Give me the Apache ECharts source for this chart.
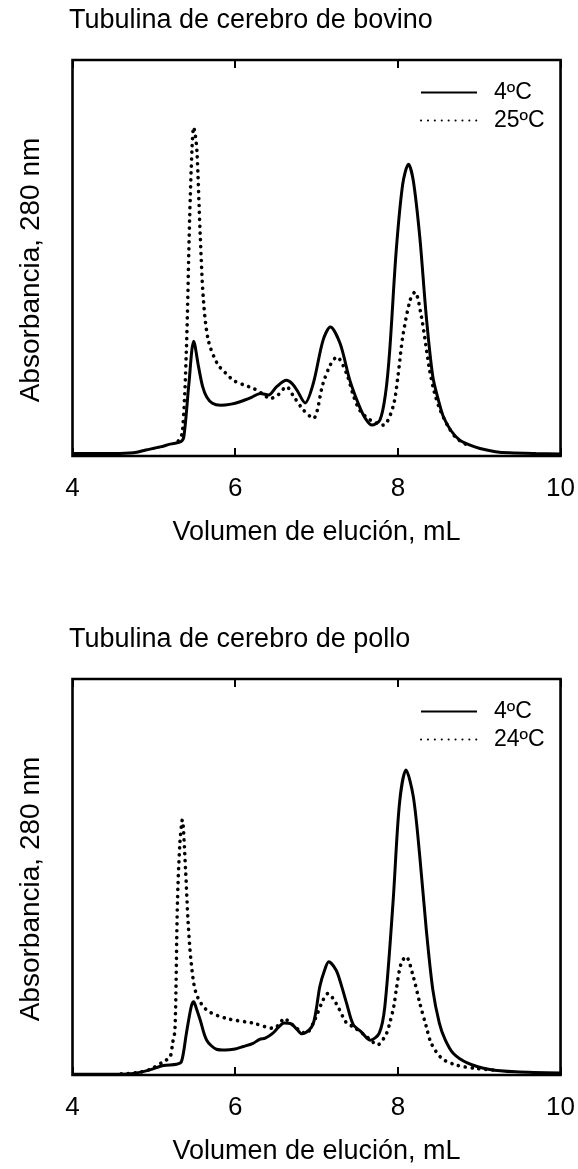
<!DOCTYPE html>
<html>
<head>
<meta charset="utf-8">
<script src="https://cdn.jsdelivr.net/npm/echarts@6/dist/echarts.min.js"></script>
<style>
html,body{margin:0;padding:0;background:#fff;}
#chart{width:578px;height:1169px;}
</style>
</head>
<body>
<div id="chart"></div>
<script>
// ---- Data (x = elution volume in mL, y = absorbance, arbitrary units: % of plot height) ----
var titles = ['Tubulina de cerebro de bovino', 'Tubulina de cerebro de pollo'];
var xAxisTitle = 'Volumen de elución, mL';
var yAxisTitle = 'Absorbancia, 280 nm';
var xTicks = [4, 6, 8, 10];
var legendTop = ['4ºC', '25ºC'];
var legendBottom = ['4ºC', '24ºC'];

var bovino4C = [[4.0,0.6],[4.5,0.6],[4.75,0.8],[4.9,1.5],[5.08,2.3],[5.2,3.0],[5.33,3.6],[5.37,5.0],[5.43,18],[5.49,29],[5.55,22.5],[5.6,17.5],[5.65,14.9],[5.72,13.3],[5.82,12.8],[5.95,13.1],[6.06,13.7],[6.2,14.8],[6.31,15.8],[6.41,15.4],[6.51,17.5],[6.63,19.1],[6.7,18.3],[6.76,16.6],[6.86,13.4],[6.96,18.3],[7.08,29.2],[7.17,32.6],[7.29,28.4],[7.41,19.1],[7.53,12.4],[7.6,9.5],[7.68,7.8],[7.78,9.1],[7.85,16],[7.90,26.7],[7.98,51.9],[8.06,68.7],[8.13,73.7],[8.19,69.5],[8.27,55.2],[8.35,35.1],[8.43,20.0],[8.5,14],[8.56,9.9],[8.65,6.5],[8.76,4.0],[8.88,2.8],[9.01,1.9],[9.2,1.1],[9.37,0.8],[9.7,0.6],[10,0.5]];
var bovino25C = [[5.3,3.8],[5.35,5.8],[5.40,26.7],[5.44,60],[5.47,78],[5.49,83],[5.51,81],[5.53,77],[5.57,56],[5.61,39.3],[5.67,29.2],[5.78,23.3],[5.88,21],[5.98,19.1],[6.1,18],[6.22,17.1],[6.33,15.8],[6.43,14.5],[6.53,15.5],[6.63,17.5],[6.72,15],[6.84,11.6],[6.96,9.5],[7.08,18.3],[7.17,23],[7.25,25.0],[7.37,20.8],[7.45,15.5],[7.53,11.6],[7.66,9.1],[7.82,7.8],[7.94,12.4],[8.0,20],[8.06,30.1],[8.15,39.3],[8.21,41.4],[8.29,35.1],[8.39,21.7],[8.45,16],[8.52,11.6],[8.62,7.4],[8.72,4.5],[8.85,2.8]];
var pollo4C = [[4.0,0.2],[4.6,0.2],[4.75,0.4],[4.95,1.3],[5.12,2.4],[5.28,2.7],[5.34,3.4],[5.40,10.5],[5.46,17.3],[5.49,18.5],[5.52,17],[5.57,13.9],[5.65,8.8],[5.77,6.5],[5.88,6.3],[5.98,6.5],[6.1,7.2],[6.22,8.0],[6.30,9.0],[6.37,9.3],[6.46,10.5],[6.53,12],[6.60,13.1],[6.69,12.9],[6.76,11.5],[6.82,10.4],[6.91,11.4],[6.96,13],[7.0,17],[7.04,22.3],[7.1,26.5],[7.15,28.6],[7.24,26.5],[7.30,23],[7.37,18.1],[7.45,12.8],[7.55,10.9],[7.66,8.8],[7.77,10.5],[7.84,17.3],[7.94,43.4],[8.02,68.6],[8.10,77.0],[8.19,70.3],[8.27,55.1],[8.35,36.6],[8.43,21.5],[8.51,13.1],[8.58,9],[8.68,5.5],[8.86,3.0],[9.13,1.4],[9.45,0.8],[10,0.5]];
var pollo24C = [[4.6,0.3],[4.8,0.6],[4.95,1.4],[5.12,3.4],[5.20,4.6],[5.23,8],[5.26,11.4],[5.29,43.4],[5.32,58.5],[5.35,64.4],[5.39,51.8],[5.42,39.1],[5.46,28.2],[5.52,20.6],[5.65,16.4],[5.89,14.3],[6.22,13.1],[6.47,11.8],[6.55,13],[6.60,14.3],[6.67,13.3],[6.73,12.2],[6.87,10.5],[6.96,13.1],[7.08,18.9],[7.14,20.6],[7.24,18.1],[7.37,13.1],[7.45,12.2],[7.64,9.3],[7.75,7.6],[7.86,10.5],[7.90,13.1],[7.95,17.3],[7.98,21.5],[8.04,28.2],[8.10,29.9],[8.19,24.8],[8.27,18.1],[8.35,12.2],[8.41,8.0],[8.54,4.2],[8.72,2.5],[8.95,1.7],[9.2,1.2]];

// ---- Layout ----
var FONT = 'Liberation Sans, Arial, Helvetica, sans-serif';
var gridTops = [60, 679];
var gridH = 396;
var gridLeft = 72.5, gridRight = 17;

var chart = echarts.init(document.getElementById('chart'), null, {renderer: 'canvas'});

var grids = [], xAxes = [], yAxes = [], series = [], legends = [], titleArr = [], graphics = [];
var seriesSets = [[bovino4C, bovino25C], [pollo4C, pollo24C]];
var legendSets = [legendTop, legendBottom];

for (var g = 0; g < 2; g++) {
  grids.push({left: gridLeft, right: gridRight, top: gridTops[g], height: gridH,
    show: true, borderColor: '#000', borderWidth: 2.6, backgroundColor: 'transparent', containLabel: false});
  // bottom axis
  xAxes.push({type: 'value', gridIndex: g, min: xTicks[0], max: xTicks[xTicks.length-1], interval: 2,
    position: 'bottom',
    axisLine: {show: false},
    axisTick: {show: true, inside: true, length: 8, lineStyle: {color: '#000', width: 2}},
    splitLine: {show: false},
    axisLabel: {show: true, color: '#000', fontSize: 26, fontFamily: FONT, margin: 20},
    name: xAxisTitle, nameLocation: 'middle', nameGap: 63,
    nameTextStyle: {color: '#000', fontSize: 27, fontFamily: FONT}
  });
  // top axis (ticks only)
  xAxes.push({type: 'value', gridIndex: g, min: xTicks[0], max: xTicks[xTicks.length-1], interval: 2,
    position: 'top',
    axisLine: {show: false},
    axisTick: {show: true, inside: true, length: 8, lineStyle: {color: '#000', width: 2}},
    splitLine: {show: false},
    axisLabel: {show: false}
  });
  yAxes.push({type: 'value', gridIndex: g, min: 0, max: 100,
    axisLine: {show: false}, axisTick: {show: false}, axisLabel: {show: false}, splitLine: {show: false}});

  var names = legendSets[g];
  series.push({name: names[0], type: 'line', xAxisIndex: g*2, yAxisIndex: g, data: seriesSets[g][0],
    smooth: 0.3, symbol: 'none', showSymbol: false, z: 3,
    lineStyle: {color: '#000', width: 3, type: 'solid'}, itemStyle: {color: '#000'}});
  series.push({name: names[1], type: 'line', xAxisIndex: g*2, yAxisIndex: g, data: seriesSets[g][1],
    smooth: 0.3, symbol: 'none', showSymbol: false, z: 2,
    lineStyle: {color: '#000', width: 3.6, type: [0.1, 6.8], cap: 'round'}, itemStyle: {color: '#000'}});

  legends.push({orient: 'vertical', left: 420, top: gridTops[g] + 21, padding: 0,
    itemWidth: 56, itemHeight: 14, itemGap: 5,
    data: names.map(function(n){ return {name: n}; }),
    itemStyle: {opacity: 0, borderWidth: 0},
    textStyle: {color: '#000', fontSize: 23, fontFamily: FONT, lineHeight: 23, padding: [0, 0, 0, 12]},
    selectedMode: false
  });

  titleArr.push({text: titles[g], left: 69, top: gridTops[g] - 53, padding: 0,
    textStyle: {color: '#000', fontSize: 27, fontWeight: 'normal', fontFamily: FONT}});

  graphics.push({type: 'text', x: 31, y: gridTops[g] + gridH/2 + 12, rotation: Math.PI/2,
    style: {text: yAxisTitle, fill: '#000', font: '28px ' + FONT, textAlign: 'center', textVerticalAlign: 'middle'}});
}

chart.setOption({
  animation: false,
  backgroundColor: '#fff',
  title: titleArr,
  grid: grids,
  xAxis: xAxes,
  yAxis: yAxes,
  legend: legends,
  series: series,
  graphic: graphics
});
</script>
</body>
</html>
